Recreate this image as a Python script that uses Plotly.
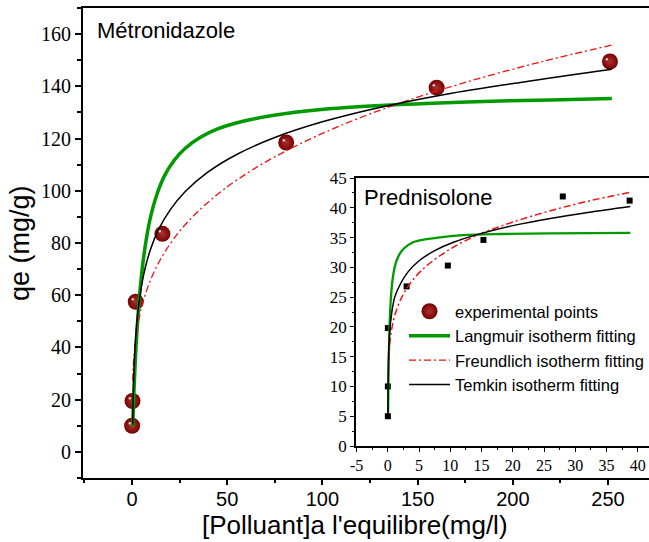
import plotly.graph_objects as go

# ---------------- Métronidazole (main panel) ----------------
met_ce = [0.1, 0.3, 2.0, 16.0, 81.0, 160.0, 251.0]
met_qe = [10.0, 19.5, 57.5, 83.5, 118.5, 139.5, 149.5]

met_lang_x = [0.4, 0.7, 1.2, 1.8, 2.5, 3.5, 4.5, 6, 8, 10, 13, 17, 22, 28, 36, 45, 60, 80, 105, 140, 180, 220, 252]
met_lang_y = [9.8, 16.3, 25.8, 35.4, 44.7, 55.4, 63.9, 73.8, 83.5, 90.7, 98.4, 105.6, 111.5, 116.3,
              120.5, 123.7, 126.9, 129.5, 131.5, 133.0, 134.1, 134.8, 135.3]

met_freu_x = [0.35, 0.6, 1, 1.6, 2.5, 4, 6, 9, 13, 18, 25, 35, 48, 65, 85, 110, 140, 175, 215, 252]
met_freu_y = [27.3, 31.4, 36.0, 40.8, 45.9, 52.0, 57.9, 64.4, 71.0, 77.4, 84.5, 92.3, 100.4, 108.8,
              116.8, 125.1, 133.4, 141.5, 149.4, 155.8]

met_temk_x = [0.4, 0.6, 0.9, 1.3, 1.8, 2.5, 3.5, 5, 7, 10, 14, 20, 28, 40, 55, 75, 100, 130, 165, 205, 252]
met_temk_y = [10.5, 19.0, 27.5, 35.2, 42.1, 49.0, 56.0, 63.5, 70.6, 78.1, 85.2, 92.6, 99.7, 107.2,
              113.9, 120.4, 126.4, 131.9, 137.0, 141.6, 146.5]

# ---------------- Prednisolone (inset) ----------------
pred_ce = [0.0, 0.0, 0.0, 3.0, 9.6, 15.3, 28.0, 38.7]
pred_qe = [5.0, 10.0, 19.8, 26.8, 30.3, 34.6, 41.9, 41.2]

pred_lang_x = [0.04, 0.1, 0.2, 0.35, 0.55, 0.8, 1.2, 1.8, 2.6, 3.8, 5.5, 8, 12, 18, 26, 38.8]
pred_lang_y = [5.6, 11.3, 17.3, 22.2, 25.8, 28.3, 30.5, 32.1, 33.2, 34.1, 34.6, 35.0, 35.4, 35.6, 35.7, 35.8]

pred_freu_x = [0.12, 0.25, 0.5, 1, 2, 3.5, 5.5, 8, 11, 15, 20, 26, 32, 38.8]
pred_freu_y = [14.5, 16.6, 18.9, 21.5, 24.5, 27.2, 29.6, 31.7, 33.7, 35.7, 37.6, 39.5, 41.1, 42.6]

pred_temk_x = [0.012, 0.03, 0.07, 0.15, 0.3, 0.6, 1.1, 2, 3.2, 5, 7.5, 10.5, 15, 20, 26, 32, 38.8]
pred_temk_y = [5.2, 9.6, 13.2, 16.4, 19.3, 22.2, 25.0, 27.2, 29.2, 31.1, 32.8, 34.2, 35.7, 37.0, 38.2, 39.2, 40.2]

inset_xticks = [-5, 0, 5, 10, 15, 20, 25, 30, 35, 40]
inset_xlabels = ["-5", "0", "5", "10", "15", "20", "25", "30", "35", "40"]

GREEN = "#009a00"
RED = "#ee1111"
DARKRED = "#780000"
SANS = "Liberation Sans, Arial, sans-serif"
SERIF = "Liberation Serif, Times New Roman, serif"
W, H = 649, 542

fig = go.Figure()

# main panel traces (these also build the legend)
fig.add_trace(go.Scatter(
    x=met_ce, y=met_qe, mode="markers", name="experimental points",
    marker=dict(size=16, color=DARKRED, line=dict(width=0),
                gradient=dict(type="radial", color="#a83232")),
    xaxis="x", yaxis="y"))
fig.add_trace(go.Scatter(
    x=met_lang_x, y=met_lang_y, mode="lines", name="Langmuir isotherm fitting",
    line=dict(color=GREEN, width=3.5, shape="spline"), xaxis="x", yaxis="y"))
fig.add_trace(go.Scatter(
    x=met_freu_x, y=met_freu_y, mode="lines", name="Freundlich isotherm fitting",
    line=dict(color=RED, width=1.3, dash="7px,3px,2px,3px", shape="spline"), xaxis="x", yaxis="y"))
fig.add_trace(go.Scatter(
    x=met_temk_x, y=met_temk_y, mode="lines", name="Temkin isotherm fitting",
    line=dict(color="black", width=1.5, shape="spline"), xaxis="x", yaxis="y"))

# inset traces
fig.add_trace(go.Scatter(
    x=pred_ce, y=pred_qe, mode="markers", showlegend=False,
    marker=dict(size=6, symbol="square", color="black"), xaxis="x2", yaxis="y2"))
fig.add_trace(go.Scatter(
    x=pred_lang_x, y=pred_lang_y, mode="lines", showlegend=False,
    line=dict(color=GREEN, width=2.3, shape="spline"), xaxis="x2", yaxis="y2"))
fig.add_trace(go.Scatter(
    x=pred_freu_x, y=pred_freu_y, mode="lines", showlegend=False,
    line=dict(color=RED, width=1.5, dash="7px,3px,2px,3px", shape="spline"), xaxis="x2", yaxis="y2"))
fig.add_trace(go.Scatter(
    x=pred_temk_x, y=pred_temk_y, mode="lines", showlegend=False,
    line=dict(color="black", width=1.5, shape="spline"), xaxis="x2", yaxis="y2"))

main_x_dom = [83 / W, 1.0]
main_y_dom = [1 - 478 / H, 1 - 8 / H]
ins_x_dom = [356 / W, 1.0]
ins_y_dom = [1 - 446 / H, 1 - 178 / H]

fig.update_layout(
    template="none",
    width=W, height=H,
    margin=dict(l=0, r=0, t=0, b=0, pad=0, autoexpand=False),
    paper_bgcolor="white", plot_bgcolor="white",
    showlegend=True,
    legend=dict(x=404 / W, y=1 - 294 / H, xanchor="left", yanchor="top",
                bgcolor="rgba(0,0,0,0)", borderwidth=0,
                font=dict(family=SANS, size=16.5, color="black"),
                itemwidth=41, tracegroupgap=0),
    xaxis=dict(domain=main_x_dom, range=[-25.7, 271.5], anchor="y", automargin=False,
               showgrid=False, zeroline=False, showline=True, linecolor="black", linewidth=2,
               mirror=True, ticks="outside", ticklen=5, tickwidth=1.5, tickcolor="black",
               tick0=0, dtick=50, ticklabelstandoff=-3,
               minor=dict(ticks="outside", ticklen=3, dtick=25, tickcolor="black", tickwidth=1.5),
               tickfont=dict(family=SANS, size=20, color="black")),
    yaxis=dict(domain=main_y_dom, range=[-10, 170], anchor="x", automargin=False,
               showgrid=False, zeroline=False, showline=True, linecolor="black", linewidth=2,
               mirror=False, ticks="outside", ticklen=6, tickwidth=1.5, tickcolor="black",
               tick0=0, dtick=20,
               minor=dict(ticks="outside", ticklen=4, dtick=10, tickcolor="black", tickwidth=1.5),
               tickfont=dict(family=SERIF, size=20, color="black")),
    xaxis2=dict(domain=ins_x_dom, range=[-5.1, 41.8], anchor="y2", automargin=False,
                showgrid=False, zeroline=False, showline=True, linecolor="black", linewidth=1.5,
                mirror=True, ticks="outside", ticklen=4, tickwidth=1, tickcolor="black",
                tickvals=inset_xticks, ticktext=inset_xlabels,
                minor=dict(ticks="outside", ticklen=2, dtick=2.5, tick0=0, tickcolor="black"),
                tickfont=dict(family=SERIF, size=16, color="black")),
    yaxis2=dict(domain=ins_y_dom, range=[0, 45], anchor="x2", automargin=False,
                showgrid=False, zeroline=False, showline=True, linecolor="black", linewidth=1.5,
                mirror=False, ticks="outside", ticklen=4, tickwidth=1, tickcolor="black",
                tick0=0, dtick=5,
                minor=dict(ticks="outside", ticklen=2, dtick=2.5, tickcolor="black"),
                tickfont=dict(family=SERIF, size=17, color="black")),
)

annotations = [
    dict(text="Métronidazole", x=95 / W, y=1 - 30 / H, xanchor="left", yanchor="middle",
         font=dict(family=SANS, size=22, color="black")),
    dict(text="Prednisolone", x=362 / W, y=1 - 198 / H, xanchor="left", yanchor="middle",
         font=dict(family=SANS, size=22, color="black")),
    dict(text="qe (mg/g)", x=20 / W, y=1 - 243 / H, xanchor="center", yanchor="middle",
         textangle=-90, font=dict(family=SANS, size=27, color="black")),
    dict(text="[Polluant]a l'equilibre(mg/l)", x=355 / W, y=1 - 525 / H,
         xanchor="center", yanchor="middle", font=dict(family=SANS, size=26, color="black")),
]
for a in annotations:
    a.update(xref="paper", yref="paper", showarrow=False)

# small specular glints on the spheres
for cx, cy in zip(met_ce, met_qe):
    annotations.append(dict(x=cx, y=cy, xref="x", yref="y", text="●", showarrow=False,
                            xshift=-2.5, yshift=2.5,
                            font=dict(size=6, color="rgba(255,225,225,0.85)")))
fig.update_layout(annotations=annotations)

fig.write_html("out.html")
